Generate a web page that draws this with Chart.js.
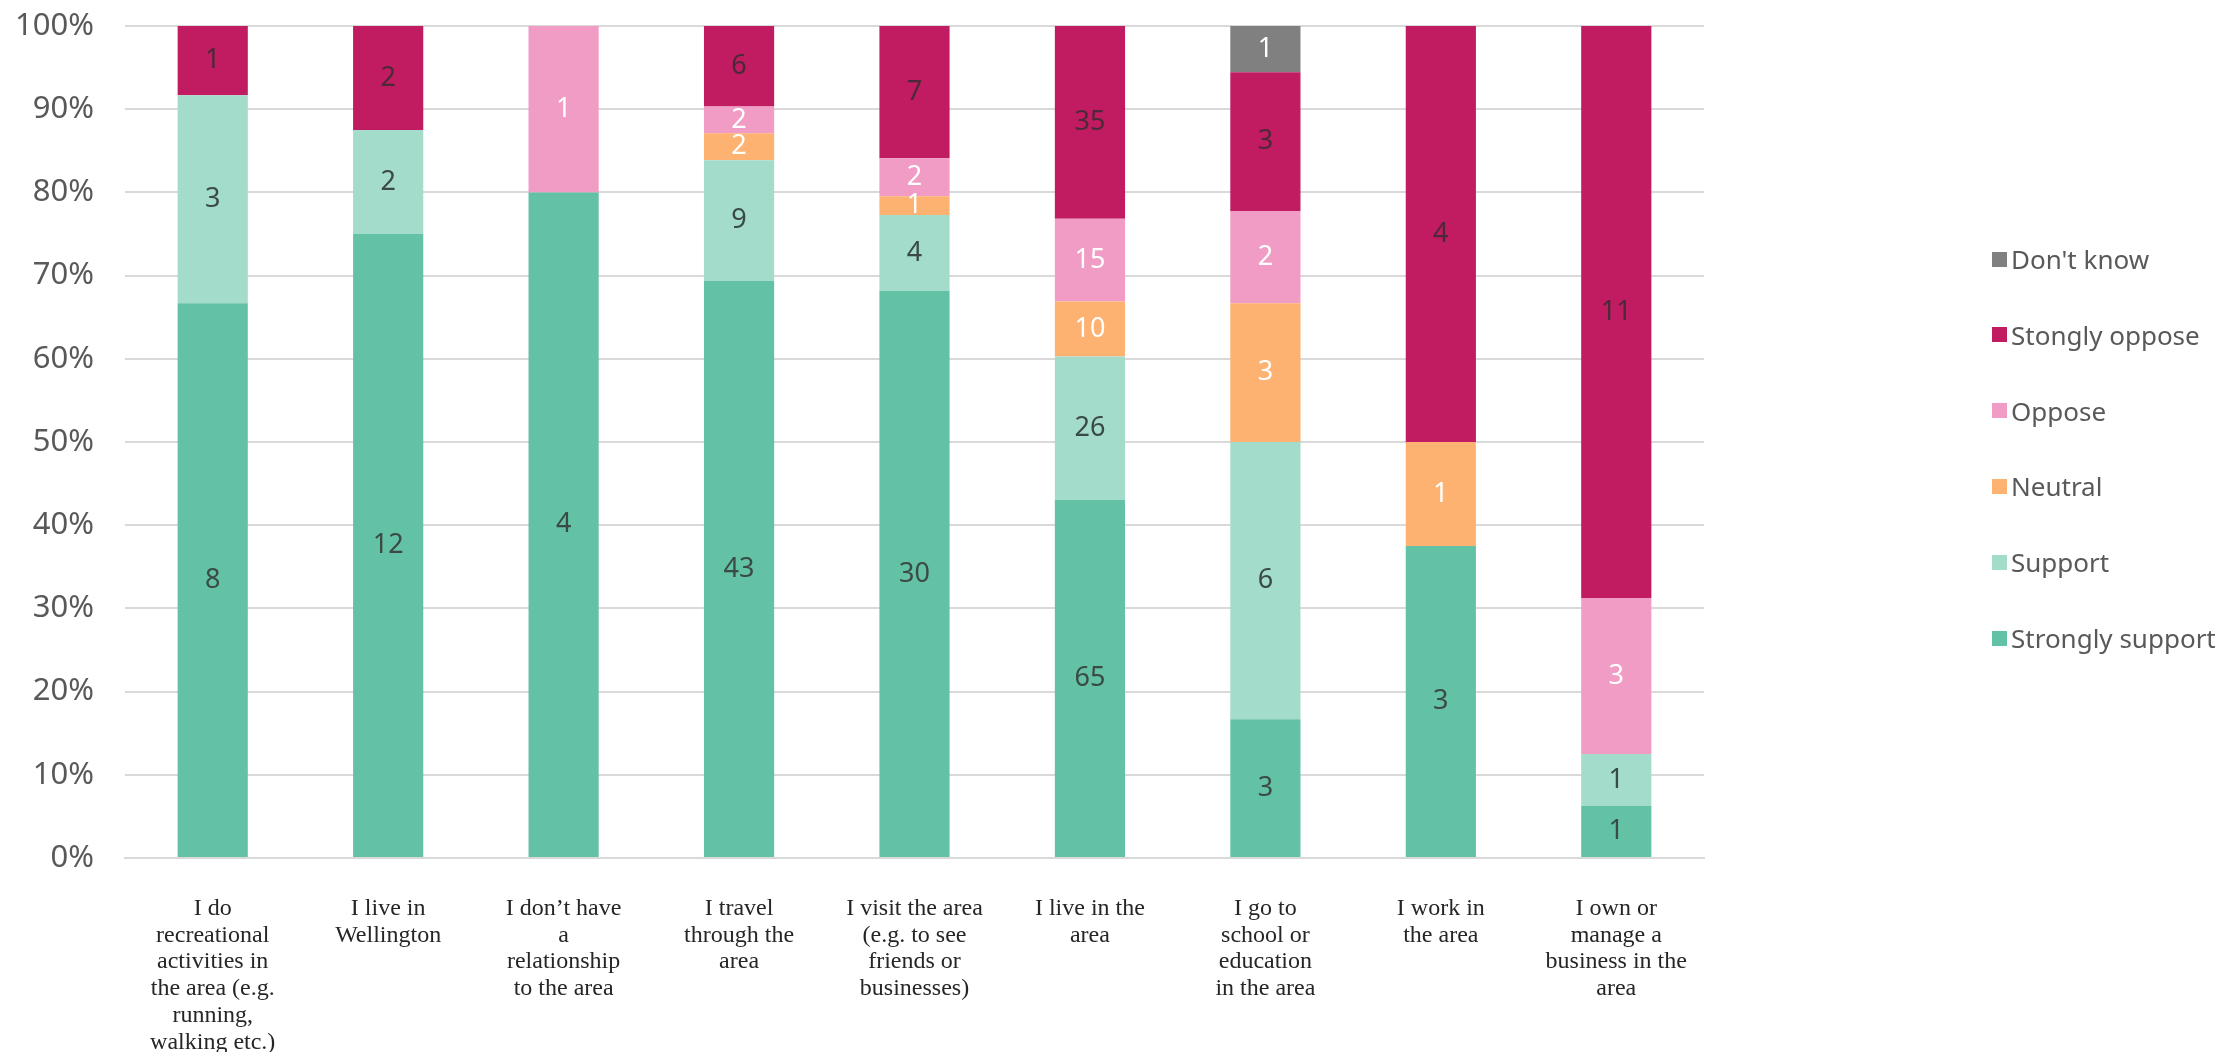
<!DOCTYPE html>
<html>
<head>
<meta charset="utf-8">
<script src="https://cdn.jsdelivr.net/npm/chart.js@4.4.1/dist/chart.umd.min.js"></script>
<style>
  body { margin: 0; background: #fff; }
  #wrap { position: relative; width: 2223px; height: 1052px; }
  #legend { position: absolute; left: 1992px; top: 0; font-family: "Noto Sans", sans-serif; font-size: 26px; color: #595959; }
  .item { position: absolute; left: 0; display: flex; align-items: center; white-space: nowrap; transform: translateY(-50%); }
  .box { width: 15px; height: 15px; margin-right: 4px; }
</style>
</head>
<body>
<div id="wrap">
  <canvas id="chart" width="2223" height="1052"></canvas>
  <div id="legend"></div>
</div>
<script>
// categories (x axis, multi-line labels)
const categories = [
  ["I do", "recreational", "activities in", "the area (e.g.", "running,", "walking etc.)"],
  ["I live in", "Wellington"],
  ["I don\u2019t have", "a", "relationship", "to the area"],
  ["I travel", "through the", "area"],
  ["I visit the area", "(e.g. to see", "friends or", "businesses)"],
  ["I live in the", "area"],
  ["I go to", "school or", "education", "in the area"],
  ["I work in", "the area"],
  ["I own or", "manage a", "business in the", "area"]
];

// response counts per category
const stronglySupport = [8, 12, 4, 43, 30, 65, 3, 3, 1];
const support         = [3, 2, 0, 9, 4, 26, 6, 0, 1];
const neutral         = [0, 0, 0, 2, 1, 10, 3, 1, 0];
const oppose          = [0, 0, 1, 2, 2, 15, 2, 0, 3];
const stronglyOppose  = [1, 2, 0, 6, 7, 35, 3, 4, 11];
const dontKnow        = [0, 0, 0, 0, 0, 0, 1, 0, 0];

const yTicks = [0, 10, 20, 30, 40, 50, 60, 70, 80, 90, 100];

const series = [
  { label: "Strongly support", counts: stronglySupport, color: "#63c2a5", text: "#3b4a45" },
  { label: "Support",          counts: support,         color: "#a3dccb", text: "#3b4a45" },
  { label: "Neutral",          counts: neutral,         color: "#fdb271", text: "#ffffff" },
  { label: "Oppose",           counts: oppose,          color: "#f09cc4", text: "#ffffff" },
  { label: "Stongly oppose",   counts: stronglyOppose,  color: "#c11b62", text: "#4a2a38" },
  { label: "Don't know",       counts: dontKnow,        color: "#808080", text: "#ffffff" }
];

// totals so each bar is 100%
const totals = categories.map((_, i) => series.reduce((s, d) => s + d.counts[i], 0));

// 🏷 draw counts in the middle of each segment
const countLabels = {
  id: "countLabels",
  afterDatasetsDraw(chart) {
    const ctx = chart.ctx;
    ctx.save();
    ctx.font = "27px 'Noto Sans', sans-serif";
    ctx.textAlign = "center";
    ctx.textBaseline = "middle";
    chart.data.datasets.forEach((ds, di) => {
      const meta = chart.getDatasetMeta(di);
      meta.data.forEach((bar, i) => {
        const n = series[di].counts[i];
        if (!n) return;
        ctx.fillStyle = series[di].text;
        ctx.fillText(String(n), bar.x, (bar.y + bar.base) / 2);
      });
    });
    ctx.restore();
  }
};

new Chart(document.getElementById("chart"), {
  type: "bar",
  data: {
    labels: categories,
    datasets: series.map(s => ({
      label: s.label,
      data: s.counts.map((c, i) => c / totals[i] * 100),
      backgroundColor: s.color,
      borderWidth: 0,
      categoryPercentage: 0.8,
      barPercentage: 0.5
    }))
  },
  options: {
    responsive: false,
    animation: false,
    layout: { padding: { top: 26, right: 519, left: 0, bottom: 0 } },
    plugins: { legend: { display: false }, tooltip: { enabled: false } },
    scales: {
      x: {
        stacked: true,
        grid: { display: false, drawTicks: false },
        border: { display: true, color: "#d9d9d9", width: 2 },
        ticks: {
          color: "#262626",
          padding: 37,
          maxRotation: 0,
          autoSkip: false,
          font: { family: "'Liberation Serif', serif", size: 24, lineHeight: 1.12 }
        },
        afterFit: (axis) => { axis.height = 194; }
      },
      y: {
        stacked: true,
        min: 0,
        max: 100,
        afterBuildTicks: (axis) => { axis.ticks = yTicks.map(v => ({ value: v })); },
        grid: { color: "#d9d9d9", lineWidth: 2, drawTicks: false },
        border: { display: false },
        ticks: {
          color: "#595959",
          padding: 31,
          font: { family: "'Noto Sans', sans-serif", size: 31 },
          callback: (v) => v + "%"
        },
        afterFit: (axis) => {
          axis.width = 125;
          axis.paddingTop = 0;
          axis.paddingBottom = 0;
        }
      }
    }
  },
  plugins: [countLabels]
});

// 📋 legend on the right, top item = last series
const legend = document.getElementById("legend");
series.slice().reverse().forEach((s, k) => {
  const item = document.createElement("div");
  item.className = "item";
  item.style.top = (259 + k * 75.8) + "px";
  item.innerHTML = `<span class="box" style="background:${s.color}"></span><span>${s.label}</span>`;
  legend.appendChild(item);
});
</script>
</body>
</html>
